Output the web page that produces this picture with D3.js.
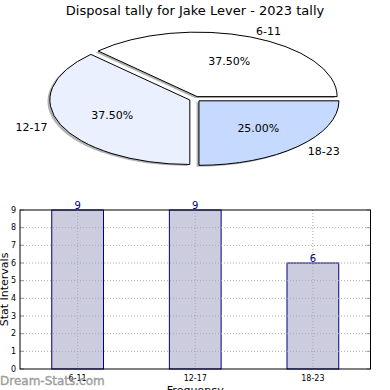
<!DOCTYPE html>
<html><head><meta charset="utf-8">
<script src="https://cdn.jsdelivr.net/npm/d3@7"></script>
<style>body{margin:0;background:#fff}svg{display:block;font-family:"DejaVu Sans",sans-serif}</style>
</head><body><svg id="c" width="390" height="390"></svg>
<script>
const title = "Disposal tally for Jake Lever - 2023 tally";
const categories = ["6-11", "12-17", "18-23"];
const values = [9, 9, 6];
const pieColors = ["#ffffff", "#eaf0fe", "#c6d9fe"];
const yTicks = [0,1,2,3,4,5,6,7,8,9];
const xLabel = "Frequency";
const yLabel = "Stat Intervals";
const watermark = "Dream-Stats.com";

const svg = d3.select("#c");
svg.append("text").attr("x",195).attr("y",15).attr("text-anchor","middle")
  .attr("font-size",13).attr("fill","#000").text(title);

// ---- Pie ----
const cx=195, cy=99, rx=140, ry=64.5, explode=0.04;
const total = d3.sum(values);
const pie = d3.pie().sort(null).startAngle(Math.PI/2).endAngle(Math.PI/2 - 2*Math.PI);
const arcs = pie(values);
const arc = d3.arc().innerRadius(0).outerRadius(1);
const g = svg.append("g");
function offs(d, k){
  const a=(d.startAngle+d.endAngle)/2;
  return [cx + k*rx*Math.sin(a), cy - k*ry*Math.cos(a)];
}
arcs.forEach(d=>{
  const [ox,oy]=offs(d,explode);
  g.append("path").attr("d",arc(d))
   .attr("transform",`translate(${ox-2.4},${oy+1.5}) scale(${rx},${ry})`)
   .attr("fill","#000").attr("fill-opacity",0.3);
});
arcs.forEach((d,i)=>{
  const [ox,oy]=offs(d,explode);
  g.append("path").attr("d",arc(d))
   .attr("transform",`translate(${ox},${oy}) scale(${rx},${ry})`)
   .attr("fill",pieColors[i]).attr("stroke","#000").attr("stroke-width",1)
   .attr("vector-effect","non-scaling-stroke");
});
arcs.forEach((d,i)=>{
  const a=(d.startAngle+d.endAngle)/2;
  const [lx,ly]=offs(d,1.1+explode);
  g.append("text").attr("x",lx).attr("y",ly).attr("dy","0.35em")
   .attr("text-anchor", Math.sin(a)>0 ? "start":"end")
   .attr("font-size",11).text(categories[i]);
  const [px,py]=offs(d,0.6+explode);
  g.append("text").attr("x",px).attr("y",py).attr("dy","0.35em")
   .attr("text-anchor","middle").attr("font-size",11)
   .text((values[i]/total*100).toFixed(2)+"%");
});

// ---- Bars ----
const L=20, R=370.5, T=210, B=369;
const x = d3.scaleLinear().domain([-0.49, 2.49]).range([L,R]);
const y = d3.scaleLinear().domain([0,9]).range([B,T]);
const bw = 0.44;
const b = svg.append("g");
b.selectAll("rect.bar").data(values).join("rect").attr("class","bar")
  .attr("x",(v,i)=>x(i-bw/2)).attr("width",(v,i)=>x(i+bw/2)-x(i-bw/2))
  .attr("y",v=>y(v)).attr("height",v=>y(0)-y(v))
  .attr("fill","#ccccdf").attr("stroke","#000080").attr("stroke-width",1);
// grid
b.selectAll("line.hg").data(yTicks.slice(1,-1)).join("line").attr("class","hg")
  .attr("x1",L).attr("x2",R).attr("y1",d=>y(d)).attr("y2",d=>y(d))
  .attr("stroke","#aaa").attr("stroke-dasharray","1,2");
b.selectAll("line.vg").data(categories).join("line").attr("class","vg")
  .attr("x1",(d,i)=>x(i)).attr("x2",(d,i)=>x(i)).attr("y1",T).attr("y2",B)
  .attr("stroke","#aaa").attr("stroke-dasharray","1,2");
// ticks
b.selectAll("line.rt").data(yTicks).join("line").attr("class","rt")
  .attr("x1",R-4).attr("x2",R).attr("y1",d=>y(d)).attr("y2",d=>y(d)).attr("stroke","#999");
b.selectAll("line.lt").data(yTicks).join("line").attr("class","lt")
  .attr("x1",L).attr("x2",L+4).attr("y1",d=>y(d)).attr("y2",d=>y(d)).attr("stroke","#999");
b.append("rect").attr("x",L).attr("y",T).attr("width",R-L).attr("height",B-T)
  .attr("fill","none").attr("stroke","#000").attr("stroke-width",1);
b.selectAll("text.yt").data(yTicks).join("text").attr("class","yt")
  .attr("x",L-4).attr("y",d=>y(d)).attr("dy","0.35em").attr("text-anchor","end")
  .attr("font-size",8).text(d=>d);
b.selectAll("text.xt").data(categories).join("text").attr("class","xt")
  .attr("x",(d,i)=>x(i)).attr("y",381).attr("text-anchor","middle")
  .attr("font-size",8).text(d=>d);
b.selectAll("text.vl").data(values).join("text").attr("class","vl")
  .attr("x",(v,i)=>x(i)).attr("y",v=>y(v)-1).attr("text-anchor","middle")
  .attr("font-size",10).attr("fill","#000080").text(v=>v);
b.append("text").attr("x",(L+R)/2).attr("y",394).attr("text-anchor","middle")
  .attr("font-size",11).text(xLabel);
b.append("text").attr("transform",`translate(8,${(T+B)/2}) rotate(-90)`)
  .attr("text-anchor","middle").attr("font-size",11).text(yLabel);
svg.append("text").attr("x",0).attr("y",385).attr("font-size",12)
  .attr("fill","#999").attr("stroke","#999").attr("stroke-width",0.4)
  .attr("fill-opacity",0.9).text(watermark);
</script></body></html>
